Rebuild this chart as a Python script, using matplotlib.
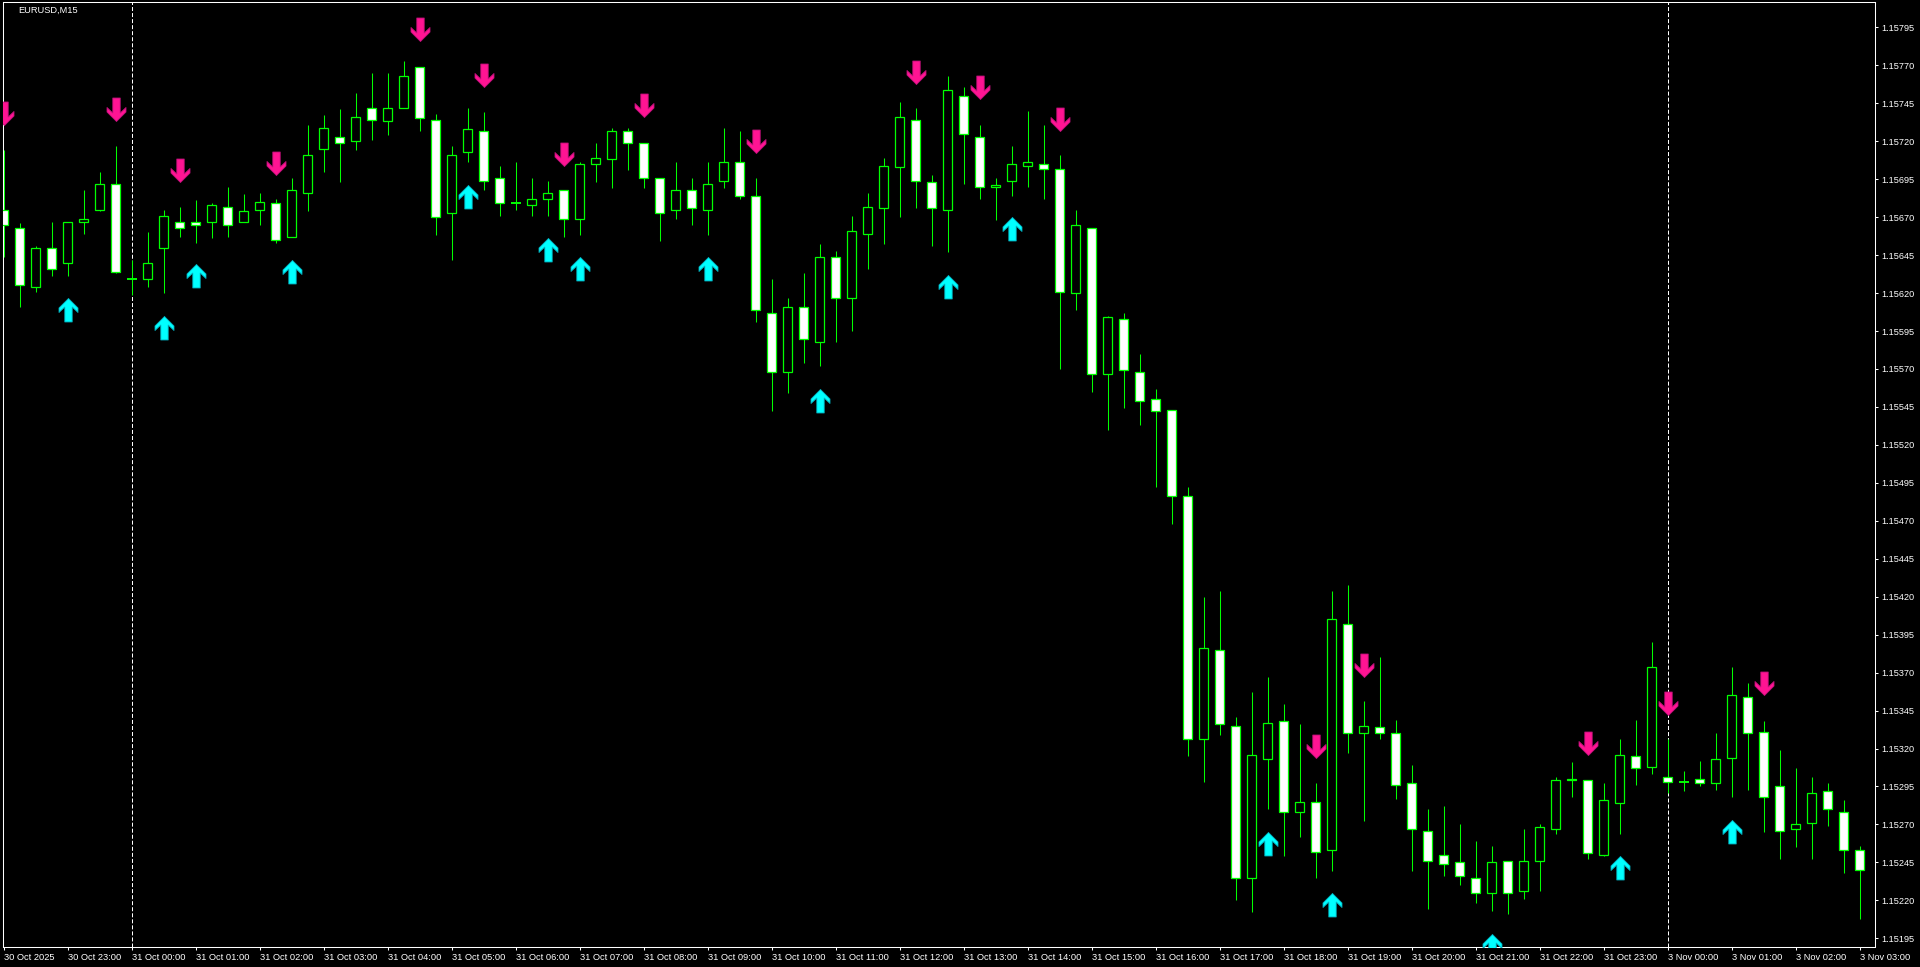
import matplotlib
matplotlib.use("Agg")
import matplotlib.pyplot as plt
from matplotlib.path import Path
import numpy as np

plt.rcParams['font.family'] = ['Liberation Sans', 'DejaVu Sans']
plt.rcParams['lines.scale_dashes'] = False

# ---------------- data (EURUSD M15, 30 Oct 22:00 -> 3 Nov 03:00) ----------------
opens = [1.15675, 1.15663, 1.15624, 1.15650, 1.15640, 1.15667, 1.15675, 1.15692, 1.15629, 1.15629,
         1.15650, 1.15667, 1.15667, 1.15667, 1.15677, 1.15667, 1.15675, 1.15679, 1.15657, 1.15686,
         1.15715, 1.15723, 1.15720, 1.15742, 1.15733, 1.15742, 1.15769, 1.15734, 1.15673, 1.15713,
         1.15727, 1.15696, 1.15679, 1.15678, 1.15682, 1.15688, 1.15669, 1.15705, 1.15708, 1.15727,
         1.15719, 1.15696, 1.15675, 1.15688, 1.15675, 1.15694, 1.15706, 1.15684, 1.15607, 1.15568,
         1.15611, 1.15588, 1.15644, 1.15617, 1.15659, 1.15676, 1.15703, 1.15734, 1.15693, 1.15675,
         1.15750, 1.15723, 1.15690, 1.15694, 1.15704, 1.15705, 1.15702, 1.15620, 1.15663, 1.15567,
         1.15603, 1.15568, 1.15550, 1.15543, 1.15486, 1.15326, 1.15385, 1.15335, 1.15235, 1.15313,
         1.15338, 1.15278, 1.15285, 1.15253, 1.15402, 1.15330, 1.15334, 1.15330, 1.15297, 1.15266,
         1.15250, 1.15245, 1.15235, 1.15225, 1.15246, 1.15226, 1.15246, 1.15267, 1.15300, 1.15299,
         1.15250, 1.15284, 1.15315, 1.15308, 1.15301, 1.15298, 1.15300, 1.15297, 1.15314, 1.15354,
         1.15331, 1.15295, 1.15267, 1.15271, 1.15292, 1.15278, 1.15253]
highs = [1.15714, 1.15666, 1.15651, 1.15667, 1.15667, 1.15688, 1.15700, 1.15717, 1.15642, 1.15660,
         1.15675, 1.15677, 1.15681, 1.15679, 1.15690, 1.15685, 1.15686, 1.15682, 1.15696, 1.15731,
         1.15737, 1.15741, 1.15752, 1.15765, 1.15765, 1.15773, 1.15769, 1.15738, 1.15717, 1.15742,
         1.15739, 1.15704, 1.15706, 1.15696, 1.15694, 1.15688, 1.15706, 1.15719, 1.15729, 1.15729,
         1.15719, 1.15696, 1.15706, 1.15696, 1.15706, 1.15729, 1.15727, 1.15696, 1.15629, 1.15617,
         1.15633, 1.15652, 1.15648, 1.15671, 1.15686, 1.15709, 1.15746, 1.15742, 1.15698, 1.15763,
         1.15756, 1.15731, 1.15696, 1.15717, 1.15740, 1.15731, 1.15711, 1.15675, 1.15663, 1.15605,
         1.15607, 1.15580, 1.15557, 1.15543, 1.15492, 1.15420, 1.15424, 1.15341, 1.15357, 1.15367,
         1.15349, 1.15336, 1.15297, 1.15424, 1.15428, 1.15351, 1.15380, 1.15339, 1.15309, 1.15280,
         1.15282, 1.15270, 1.15259, 1.15256, 1.15246, 1.15267, 1.15270, 1.15301, 1.15311, 1.15299,
         1.15297, 1.15326, 1.15339, 1.15390, 1.15326, 1.15305, 1.15312, 1.15330, 1.15374, 1.15363,
         1.15338, 1.15319, 1.15307, 1.15301, 1.15297, 1.15286, 1.15256]
lows = [1.15644, 1.15611, 1.15621, 1.15631, 1.15631, 1.15659, 1.15674, 1.15633, 1.15619, 1.15624,
        1.15620, 1.15657, 1.15653, 1.15656, 1.15657, 1.15667, 1.15665, 1.15653, 1.15657, 1.15674,
        1.15700, 1.15693, 1.15714, 1.15721, 1.15724, 1.15742, 1.15727, 1.15658, 1.15642, 1.15706,
        1.15688, 1.15671, 1.15675, 1.15671, 1.15671, 1.15657, 1.15658, 1.15693, 1.15689, 1.15701,
        1.15689, 1.15654, 1.15669, 1.15665, 1.15658, 1.15689, 1.15682, 1.15601, 1.15542, 1.15554,
        1.15574, 1.15572, 1.15588, 1.15595, 1.15636, 1.15652, 1.15670, 1.15676, 1.15651, 1.15647,
        1.15692, 1.15682, 1.15668, 1.15684, 1.15690, 1.15682, 1.15570, 1.15609, 1.15555, 1.15530,
        1.15544, 1.15533, 1.15492, 1.15468, 1.15315, 1.15298, 1.15329, 1.15220, 1.15212, 1.15280,
        1.15249, 1.15262, 1.15235, 1.15239, 1.15317, 1.15272, 1.15326, 1.15287, 1.15239, 1.15214,
        1.15236, 1.15230, 1.15218, 1.15213, 1.15211, 1.15221, 1.15226, 1.15264, 1.15288, 1.15247,
        1.15249, 1.15264, 1.15296, 1.15303, 1.15291, 1.15292, 1.15295, 1.15293, 1.15288, 1.15293,
        1.15265, 1.15247, 1.15255, 1.15247, 1.15269, 1.15238, 1.15208]
closes = [1.15665, 1.15625, 1.15650, 1.15636, 1.15667, 1.15669, 1.15692, 1.15634, 1.15629, 1.15640,
          1.15671, 1.15663, 1.15665, 1.15678, 1.15665, 1.15674, 1.15680, 1.15655, 1.15688, 1.15711,
          1.15729, 1.15719, 1.15736, 1.15734, 1.15742, 1.15763, 1.15735, 1.15670, 1.15711, 1.15728,
          1.15694, 1.15679, 1.15679, 1.15682, 1.15686, 1.15669, 1.15705, 1.15709, 1.15727, 1.15719,
          1.15696, 1.15673, 1.15688, 1.15676, 1.15692, 1.15706, 1.15684, 1.15609, 1.15568, 1.15611,
          1.15590, 1.15644, 1.15617, 1.15661, 1.15677, 1.15704, 1.15736, 1.15694, 1.15676, 1.15754,
          1.15725, 1.15690, 1.15691, 1.15705, 1.15706, 1.15702, 1.15621, 1.15665, 1.15567, 1.15604,
          1.15569, 1.15549, 1.15542, 1.15486, 1.15326, 1.15386, 1.15336, 1.15235, 1.15316, 1.15337,
          1.15278, 1.15285, 1.15252, 1.15405, 1.15330, 1.15335, 1.15330, 1.15296, 1.15267, 1.15246,
          1.15244, 1.15236, 1.15225, 1.15245, 1.15225, 1.15246, 1.15268, 1.15299, 1.15299, 1.15251,
          1.15286, 1.15316, 1.15307, 1.15374, 1.15298, 1.15298, 1.15297, 1.15313, 1.15355, 1.15330,
          1.15288, 1.15266, 1.15270, 1.15291, 1.15280, 1.15253, 1.15240]

# indicator arrows: bar index and price of the arrow tip
sell_bars = [0, 7, 11, 17, 26, 30, 35, 40, 47, 57, 61, 66, 82, 85, 99, 104, 110]
sell_prices = [1.15731, 1.15733, 1.15693, 1.15698, 1.15786, 1.15756, 1.15704, 1.15736, 1.15712,
               1.15758, 1.15748, 1.15727, 1.15314, 1.15367, 1.15316, 1.15342, 1.15355]
buy_bars = [4, 10, 12, 18, 29, 34, 36, 44, 51, 59, 63, 79, 83, 93, 101, 108]
buy_prices = [1.15617, 1.15605, 1.15639, 1.15642, 1.15691, 1.15656, 1.15644, 1.15644, 1.15557,
              1.15632, 1.15670, 1.15265, 1.15225, 1.15198, 1.15249, 1.15273]

# axis labels
time_tick_bars = [0, 4, 8, 12, 16, 20, 24, 28, 32, 36, 40, 44, 48, 52, 56, 60, 64, 68, 72, 76,
                  80, 84, 88, 92, 96, 100, 104, 108, 112, 116]
time_tick_labels = ["30 Oct 2025", "30 Oct 23:00", "31 Oct 00:00", "31 Oct 01:00", "31 Oct 02:00",
                    "31 Oct 03:00", "31 Oct 04:00", "31 Oct 05:00", "31 Oct 06:00", "31 Oct 07:00",
                    "31 Oct 08:00", "31 Oct 09:00", "31 Oct 10:00", "31 Oct 11:00", "31 Oct 12:00",
                    "31 Oct 13:00", "31 Oct 14:00", "31 Oct 15:00", "31 Oct 16:00", "31 Oct 17:00",
                    "31 Oct 18:00", "31 Oct 19:00", "31 Oct 20:00", "31 Oct 21:00", "31 Oct 22:00",
                    "31 Oct 23:00", "3 Nov 00:00", "3 Nov 01:00", "3 Nov 02:00", "3 Nov 03:00"]
price_ticks = [1.15195, 1.15220, 1.15245, 1.15270, 1.15295, 1.15320, 1.15345, 1.15370, 1.15395,
               1.15420, 1.15445, 1.15470, 1.15495, 1.15520, 1.15545, 1.15570, 1.15595, 1.15620,
               1.15645, 1.15670, 1.15695, 1.15720, 1.15745, 1.15770, 1.15795]
period_separator_bars = [8, 104]
chart_title = "EURUSD,M15"

# ---------------- drawing ----------------
W, H = 1920, 967
fig = plt.figure(figsize=(W / 100, H / 100), dpi=100, facecolor='black')
left_px, right_px, top_px, bottom_px = 2.5, 1874.7, 2.0, 946.5
ax = fig.add_axes([left_px / W, (H - bottom_px) / H,
                   (right_px - left_px) / W, (bottom_px - top_px) / H], facecolor='black')

GREEN = '#00FF00'
o = np.array(opens); h = np.array(highs); l = np.array(lows); c = np.array(closes)
x = np.arange(len(o))

ax.vlines(x, l, h, color=GREEN, linewidth=0.75, zorder=2)

body = c != o
fills = np.where(c < o, 'white', 'black')
ax.bar(x[body], np.abs(c - o)[body], bottom=np.minimum(o, c)[body], width=0.59,
       color=fills[body], edgecolor=GREEN, linewidth=0.9, zorder=3)
doji = ~body
ax.hlines(o[doji], x[doji] - 0.32, x[doji] + 0.32, color=GREEN, linewidth=1.4, zorder=3)

for b in period_separator_bars:
    ax.axvline(b, color='white', linewidth=0.72, linestyle=(0, (2.9, 1.45)), zorder=1)

# arrow markers (tip at origin)
up_verts = [(0, 0), (9.5, -9.5), (9.5, -14.0), (3.7, -8.5), (3.7, -23.5), (-3.7, -23.5),
            (-3.7, -8.5), (-9.5, -14.0), (-9.5, -9.5), (0, 0)]
down_verts = [(vx, -vy) for vx, vy in up_verts]
up_path = Path(up_verts, [Path.MOVETO] + [Path.LINETO] * 8 + [Path.CLOSEPOLY])
down_path = Path(down_verts, [Path.MOVETO] + [Path.LINETO] * 8 + [Path.CLOSEPOLY])

ax.plot(sell_bars, sell_prices, linestyle='none', marker=down_path, markersize=33.8,
        markerfacecolor='#FF1493', markeredgecolor='#C0107A', markeredgewidth=0.6, zorder=5)
ax.plot(buy_bars, buy_prices, linestyle='none', marker=up_path, markersize=33.8,
        markerfacecolor='#00FFFF', markeredgecolor='#00B0C0', markeredgewidth=0.6, zorder=5)

ax.set_xlim(-0.075, 116.94)
ax.set_ylim(1.151896, 1.158117)

for s in ax.spines.values():
    s.set_color('white')
    s.set_linewidth(0.75)

ax.yaxis.tick_right()
ax.set_yticks(price_ticks)
ax.set_yticklabels([f"{p:.5f}" for p in price_ticks])
ax.tick_params(axis='y', colors='white', length=2, width=0.75, pad=3, labelsize=6.6,
               direction='out')
ax.set_xticks(time_tick_bars)
ax.set_xticklabels(time_tick_labels)
ax.tick_params(axis='x', colors='white', length=2.5, width=0.75, pad=2.5, labelsize=6.7,
               direction='out')
for lab in ax.get_xticklabels():
    lab.set_ha('left')

fig.text(18 / W, 1 - 10.5 / H, chart_title, color='white', fontsize=6.7, va='center', ha='left')

fig.savefig('out.png', dpi=100, facecolor='black')
